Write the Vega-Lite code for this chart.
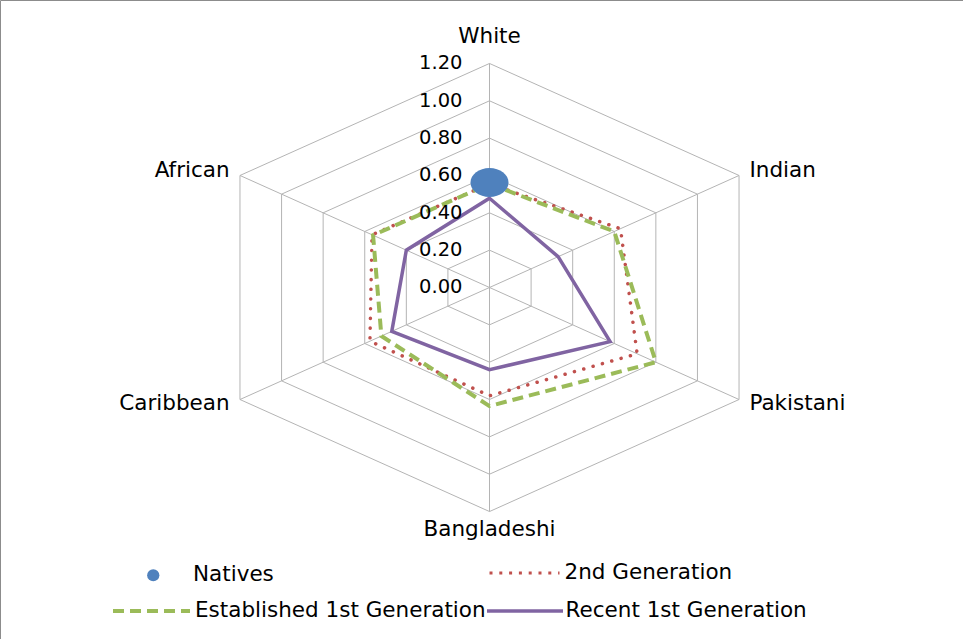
{
  "$schema": "https://vega.github.io/schema/vega-lite/v6.json",
  "width": 963,
  "height": 639,
  "autosize": {"type": "none"},
  "padding": 0,
  "background": "white",
  "config": {
    "view": {"stroke": "#8C8C8C", "strokeWidth": 1},
    "text": {"font": "DejaVu Sans", "color": "#000000"},
    "legend": {"labelFont": "DejaVu Sans", "labelFontSize": 21.5, "labelColor": "#000000", "labelLimit": 0, "title": null, "orient": "none", "padding": 0}
  },
  "datasets": {
    "cats": [
      {"cat": "White", "k": 0},
      {"cat": "Indian", "k": 1},
      {"cat": "Pakistani", "k": 2},
      {"cat": "Bangladeshi", "k": 3},
      {"cat": "Caribbean", "k": 4},
      {"cat": "African", "k": 5}
    ],
    "rings": [
      {"level": 0.2, "k": [0, 1, 2, 3, 4, 5]},
      {"level": 0.4, "k": [0, 1, 2, 3, 4, 5]},
      {"level": 0.6, "k": [0, 1, 2, 3, 4, 5]},
      {"level": 0.8, "k": [0, 1, 2, 3, 4, 5]},
      {"level": 1.0, "k": [0, 1, 2, 3, 4, 5]},
      {"level": 1.2, "k": [0, 1, 2, 3, 4, 5]}
    ],
    "ticks": [
      {"level": 0}, {"level": 0.2}, {"level": 0.4}, {"level": 0.6}, {"level": 0.8}, {"level": 1.0}, {"level": 1.2}
    ],
    "scores": [
      {"series": "Natives", "cat": "White", "value": 0.563},
      {"series": "2nd Generation", "cat": "White", "value": 0.555},
      {"series": "2nd Generation", "cat": "Indian", "value": 0.63},
      {"series": "2nd Generation", "cat": "Pakistani", "value": 0.71},
      {"series": "2nd Generation", "cat": "Bangladeshi", "value": 0.58},
      {"series": "2nd Generation", "cat": "Caribbean", "value": 0.575},
      {"series": "2nd Generation", "cat": "African", "value": 0.565},
      {"series": "Established 1st Generation", "cat": "White", "value": 0.555},
      {"series": "Established 1st Generation", "cat": "Indian", "value": 0.60},
      {"series": "Established 1st Generation", "cat": "Pakistani", "value": 0.80},
      {"series": "Established 1st Generation", "cat": "Bangladeshi", "value": 0.635},
      {"series": "Established 1st Generation", "cat": "Caribbean", "value": 0.52},
      {"series": "Established 1st Generation", "cat": "African", "value": 0.56},
      {"series": "Recent 1st Generation", "cat": "White", "value": 0.478},
      {"series": "Recent 1st Generation", "cat": "Indian", "value": 0.33},
      {"series": "Recent 1st Generation", "cat": "Pakistani", "value": 0.58},
      {"series": "Recent 1st Generation", "cat": "Bangladeshi", "value": 0.44},
      {"series": "Recent 1st Generation", "cat": "Caribbean", "value": 0.47},
      {"series": "Recent 1st Generation", "cat": "African", "value": 0.40}
    ]
  },
  "resolve": {"scale": {"stroke": "independent"}, "legend": {"stroke": "independent"}},
  "layer": [
    {
      "data": {"name": "rings"},
      "transform": [
        {"flatten": ["k"]},
        {"calculate": "datum.level * sin(datum.k * PI / 3)", "as": "x"},
        {"calculate": "datum.level * cos(datum.k * PI / 3)", "as": "y"}
      ],
      "mark": {"type": "line", "interpolate": "linear-closed", "stroke": "#B4B4B4", "strokeWidth": 1},
      "encoding": {
        "x": {"field": "x", "type": "quantitative", "scale": {"domain": [-2.0387, 1.972], "nice": false, "zero": false}, "axis": null},
        "y": {"field": "y", "type": "quantitative", "scale": {"domain": [-1.8827, 1.5399], "nice": false, "zero": false}, "axis": null},
        "detail": {"field": "level", "type": "nominal"},
        "order": {"field": "k", "type": "quantitative"}
      }
    },
    {
      "data": {"name": "cats"},
      "transform": [
        {"calculate": "0", "as": "o"},
        {"calculate": "1.2 * sin(datum.k * PI / 3)", "as": "x"},
        {"calculate": "1.2 * cos(datum.k * PI / 3)", "as": "y"}
      ],
      "mark": {"type": "rule", "stroke": "#B4B4B4", "strokeWidth": 1},
      "encoding": {
        "x": {"field": "o", "type": "quantitative"},
        "y": {"field": "o", "type": "quantitative"},
        "x2": {"field": "x"},
        "y2": {"field": "y"}
      }
    },
    {
      "data": {"name": "scores"},
      "transform": [
        {"filter": "datum.series === '2nd Generation'"},
        {"lookup": "cat", "from": {"data": {"name": "cats"}, "key": "cat", "fields": ["k"]}},
        {"calculate": "datum.value * sin(datum.k * PI / 3)", "as": "x"},
        {"calculate": "datum.value * cos(datum.k * PI / 3)", "as": "y"}
      ],
      "mark": {"type": "line", "interpolate": "linear-closed", "strokeWidth": 3.5, "strokeDash": [0.1, 9.6], "strokeCap": "round"},
      "encoding": {
        "x": {"field": "x", "type": "quantitative"},
        "y": {"field": "y", "type": "quantitative"},
        "order": {"field": "k", "type": "quantitative"},
        "stroke": {"field": "series", "type": "nominal", "scale": {"domain": ["2nd Generation"], "range": ["#C0504D"]},
          "legend": {"legendX": 488, "legendY": 536.5, "symbolType": "stroke", "symbolSize": 4900, "symbolStrokeWidth": 3, "symbolDash": [3, 6.8], "labelOffset": 3.5}}
      }
    },
    {
      "data": {"name": "scores"},
      "transform": [
        {"filter": "datum.series === 'Established 1st Generation'"},
        {"lookup": "cat", "from": {"data": {"name": "cats"}, "key": "cat", "fields": ["k"]}},
        {"calculate": "datum.value * sin(datum.k * PI / 3)", "as": "x"},
        {"calculate": "datum.value * cos(datum.k * PI / 3)", "as": "y"}
      ],
      "mark": {"type": "line", "interpolate": "linear-closed", "strokeWidth": 4, "strokeDash": [11, 6]},
      "encoding": {
        "x": {"field": "x", "type": "quantitative"},
        "y": {"field": "y", "type": "quantitative"},
        "order": {"field": "k", "type": "quantitative"},
        "stroke": {"field": "series", "type": "nominal", "scale": {"domain": ["Established 1st Generation"], "range": ["#9BBB59"]},
          "legend": {"legendX": 111, "legendY": 570.5, "symbolType": "stroke", "symbolSize": 5929, "symbolStrokeWidth": 4, "symbolDash": [11, 6], "labelOffset": 3}}
      }
    },
    {
      "data": {"name": "scores"},
      "transform": [
        {"filter": "datum.series === 'Recent 1st Generation'"},
        {"lookup": "cat", "from": {"data": {"name": "cats"}, "key": "cat", "fields": ["k"]}},
        {"calculate": "datum.value * sin(datum.k * PI / 3)", "as": "x"},
        {"calculate": "datum.value * cos(datum.k * PI / 3)", "as": "y"}
      ],
      "mark": {"type": "line", "interpolate": "linear-closed", "strokeWidth": 3.5},
      "encoding": {
        "x": {"field": "x", "type": "quantitative"},
        "y": {"field": "y", "type": "quantitative"},
        "order": {"field": "k", "type": "quantitative"},
        "stroke": {"field": "series", "type": "nominal", "scale": {"domain": ["Recent 1st Generation"], "range": ["#8064A2"]},
          "legend": {"legendX": 485, "legendY": 571, "symbolType": "stroke", "symbolSize": 5776, "symbolStrokeWidth": 3.5, "labelOffset": 0.5}}
      }
    },
    {
      "data": {"name": "ticks"},
      "transform": [{"calculate": "0", "as": "o"}],
      "mark": {"type": "text", "align": "right", "baseline": "middle", "dx": -27, "fontSize": 19.5},
      "encoding": {
        "x": {"field": "o", "type": "quantitative"},
        "y": {"field": "level", "type": "quantitative"},
        "text": {"field": "level", "type": "quantitative", "format": ".2f"}
      }
    },
    {
      "data": {"name": "cats"},
      "transform": [
        {"filter": "datum.k === 0 || datum.k === 3"},
        {"calculate": "datum.k === 0 ? 1.34 : 1.30", "as": "r"},
        {"calculate": "datum.r * sin(datum.k * PI / 3)", "as": "x"},
        {"calculate": "datum.r * cos(datum.k * PI / 3)", "as": "y"}
      ],
      "mark": {"type": "text", "align": "center", "baseline": "middle", "fontSize": 21.5},
      "encoding": {
        "x": {"field": "x", "type": "quantitative"},
        "y": {"field": "y", "type": "quantitative"},
        "text": {"field": "cat", "type": "nominal"}
      }
    },
    {
      "data": {"name": "cats"},
      "transform": [
        {"filter": "datum.k === 1 || datum.k === 2"},
        {"calculate": "1.25 * sin(datum.k * PI / 3)", "as": "x"},
        {"calculate": "1.25 * cos(datum.k * PI / 3)", "as": "y"}
      ],
      "mark": {"type": "text", "align": "left", "baseline": "middle", "fontSize": 21.5},
      "encoding": {
        "x": {"field": "x", "type": "quantitative"},
        "y": {"field": "y", "type": "quantitative"},
        "text": {"field": "cat", "type": "nominal"}
      }
    },
    {
      "data": {"name": "cats"},
      "transform": [
        {"filter": "datum.k === 4 || datum.k === 5"},
        {"calculate": "1.25 * sin(datum.k * PI / 3)", "as": "x"},
        {"calculate": "1.25 * cos(datum.k * PI / 3)", "as": "y"}
      ],
      "mark": {"type": "text", "align": "right", "baseline": "middle", "fontSize": 21.5},
      "encoding": {
        "x": {"field": "x", "type": "quantitative"},
        "y": {"field": "y", "type": "quantitative"},
        "text": {"field": "cat", "type": "nominal"}
      }
    },
    {
      "data": {"name": "scores"},
      "transform": [
        {"filter": "datum.series === 'Natives'"},
        {"lookup": "cat", "from": {"data": {"name": "cats"}, "key": "cat", "fields": ["k"]}},
        {"calculate": "datum.value * sin(datum.k * PI / 3)", "as": "x"},
        {"calculate": "datum.value * cos(datum.k * PI / 3)", "as": "y"}
      ],
      "mark": {"type": "point", "filled": true, "opacity": 1, "shape": "M-1,0A1,0.763,0,1,0,1,0A1,0.763,0,1,0,-1,0Z", "size": 1444, "strokeWidth": 0},
      "encoding": {
        "x": {"field": "x", "type": "quantitative"},
        "y": {"field": "y", "type": "quantitative"},
        "fill": {"field": "series", "type": "nominal", "scale": {"domain": ["Natives"], "range": ["#4F81BD"]},
          "legend": {"legendX": 142.5, "legendY": 564.5, "symbolType": "circle", "symbolSize": 150, "symbolStrokeWidth": 0, "labelOffset": 29}}
      }
    }
  ]
}
